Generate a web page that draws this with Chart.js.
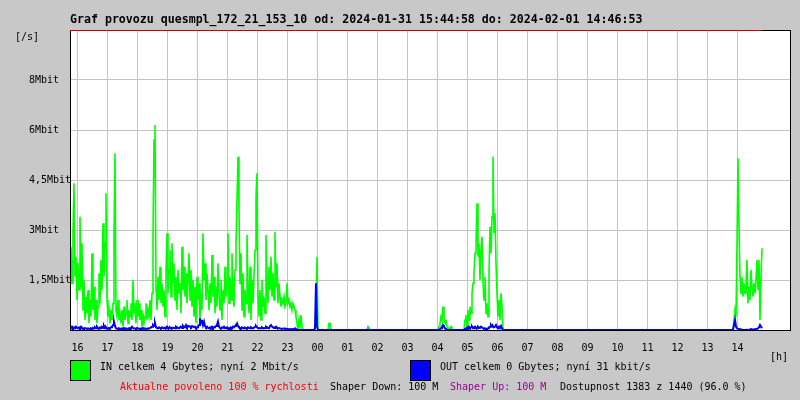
<!DOCTYPE html>
<html><head><meta charset="utf-8">
<script src="https://cdn.jsdelivr.net/npm/chart.js@4.4.1/dist/chart.umd.min.js"></script>
<style>html,body{margin:0;padding:0;background:#c8c8c8;}canvas{display:block}</style>
</head><body>
<canvas id="c" width="800" height="400"></canvas>
<script>
// ---------- data ----------
const titleText = "Graf provozu quesmpl_172_21_153_10 od: 2024-01-31 15:44:58 do: 2024-02-01 14:46:53";
const xTickHours = [16,17,18,19,20,21,22,23,24,25,26,27,28,29,30,31,32,33,34,35,36,37,38];
const xTickLabels = ["16","17","18","19","20","21","22","23","00","01","02","03","04","05","06","07","08","09","10","11","12","13","14"];
const yTickValues = [0, 1.5, 3, 4.5, 6, 7.5, 9];
const yTickLabels = ["", "1,5Mbit", "3Mbit", "4,5Mbit", "6Mbit", "8Mbit", ""];
const sampleMinutes = 2;              // one sample every 2 minutes
const segmentStarts = ["15:45", "23:53", "00:21", "01:39", "04:01", "04:53", "13:51"];
// IN (Mbit/s)
const inSeg1 = [
 1.0,2.5,1.4,2.9,4.4,1.6,2.2,0.9,2.0,1.2,
 3.4,1.3,2.6,0.6,1.5,0.3,1.0,0.5,1.2,0.2,
 0.9,0.4,2.3,0.6,1.3,0.3,0.9,0.2,0.7,1.7,
 0.8,2.1,1.2,3.2,1.6,2.6,4.1,0.9,0.4,0.6,
 0.2,0.5,0.3,0.8,2.8,5.3,0.6,0.4,0.9,0.3,
 0.5,0.2,0.6,0.1,0.7,0.3,0.5,0.9,0.2,0.6,
 0.4,0.8,0.3,1.5,0.5,0.7,0.2,0.9,0.4,0.8,
 0.3,0.6,0.1,0.5,0.2,0.4,0.8,0.3,0.6,0.4,
 0.9,0.3,1.1,2.8,5.7,6.15,1.3,0.6,1.6,0.9,
 1.9,0.8,1.4,0.7,1.2,0.4,1.7,2.9,1.1,1.8,
 2.4,1.0,2.6,1.4,2.0,0.9,1.6,0.6,1.8,1.1,
 1.4,0.5,2.5,1.2,1.9,1.0,1.7,0.8,1.5,2.3,
 0.9,1.8,0.7,1.5,0.4,1.3,0.2,1.6,0.9,1.4,
 0.3,1.1,0.6,2.9,1.5,2.0,0.9,1.7,1.2,0.6,
 1.4,0.8,2.25,1.0,1.6,0.5,1.3,0.7,2.0,1.1,
 0.6,1.5,0.3,1.2,0.8,1.9,1.0,1.5,2.9,0.8,
 1.6,0.9,2.3,1.2,0.7,1.8,2.6,3.9,5.2,3.6,
 1.4,2.3,0.6,1.7,0.4,1.2,0.8,2.85,1.3,0.5,
 1.9,0.3,1.5,0.8,1.6,2.4,4.0,4.7,1.1,0.4,
 1.2,0.3,1.5,0.7,1.0,0.5,2.85,1.4,0.8,1.9,
 1.2,2.2,1.0,1.7,0.9,2.95,1.3,2.0,0.8,1.4,
 1.0,0.7,0.9,0.8,1.0,0.7,0.8,1.4,0.8,0.9,
 0.7,0.8,0.6,0.8,0.7,0.6,0.4,0.2,0.0,0.3,
 0.1,0.45,0.1,0.0];
const inSeg2 = [0,0,0.7,2.2,0];
const inSeg3 = [0,0.2,0.2,0];
const inSeg4 = [0,0.1,0.1,0];
const inSeg5 = [0,0.1,0.2,0.4,0.3,0.7,0.4,0.2,0.3,0.1,0,0,0,0.1,0];
const inSeg6 = [0,0.3,0.45,0.1,0.6,0.3,0.7,0.5,1.1,1.4,
 1.75,2.3,2.6,3.8,2.2,2.6,1.5,2.4,2.8,1.4,
 0.9,1.6,0.5,0.8,0.4,1.7,3.1,2.3,3.4,5.2,
 2.9,3.5,2.0,1.1,0.4,0.9,0.3,1.1,0.7,0,0];
const inSeg7 = [0,0.3,0.6,0.4,2.6,5.15,3.1,1.6,1.1,1.6,
 1.0,1.4,1.1,1.3,2.1,0.8,1.3,0.9,1.8,1.3,
 1.0,1.4,1.1,1.5,2.1,1.2,2.1,0.3,1.6,2.45];
// OUT (Mbit/s)
const outSeg1 = [
 0.1,0.05,0.1,0.05,0.08,0.05,0.1,0.06,0.05,0.08,
 0.05,0.1,0.06,0.05,0.04,0.06,0.05,0.03,0.05,0.04,
 0.03,0.05,0.04,0.06,0.05,0.08,0.05,0.1,0.06,0.05,
 0.08,0.05,0.1,0.06,0.12,0.05,0.08,0.04,0.05,0.06,
 0.05,0.08,0.1,0.15,0.25,0.12,0.05,0.04,0.03,0.05,
 0.04,0.03,0.05,0.04,0.06,0.03,0.05,0.04,0.03,0.05,
 0.06,0.05,0.1,0.06,0.04,0.05,0.03,0.06,0.05,0.04,
 0.03,0.05,0.04,0.06,0.03,0.05,0.04,0.03,0.05,0.04,
 0.06,0.08,0.1,0.15,0.12,0.2,0.08,0.06,0.05,0.08,
 0.06,0.05,0.08,0.06,0.05,0.07,0.06,0.1,0.06,0.05,
 0.08,0.06,0.05,0.07,0.06,0.05,0.1,0.08,0.06,0.05,
 0.08,0.1,0.06,0.12,0.08,0.1,0.15,0.08,0.1,0.12,
 0.1,0.08,0.12,0.1,0.08,0.1,0.06,0.08,0.1,0.15,
 0.35,0.2,0.3,0.15,0.25,0.12,0.08,0.1,0.06,0.05,
 0.08,0.06,0.1,0.05,0.08,0.1,0.12,0.15,0.25,0.1,
 0.06,0.05,0.08,0.06,0.1,0.05,0.06,0.08,0.05,0.06,
 0.05,0.08,0.06,0.1,0.08,0.12,0.15,0.2,0.12,0.08,
 0.06,0.05,0.08,0.06,0.05,0.07,0.06,0.05,0.08,0.06,
 0.05,0.08,0.06,0.05,0.07,0.1,0.12,0.08,0.06,0.05,
 0.06,0.05,0.08,0.06,0.05,0.06,0.1,0.08,0.06,0.05,
 0.12,0.15,0.1,0.08,0.06,0.08,0.1,0.06,0.05,0.06,
 0.05,0.04,0.03,0.04,0.05,0.03,0.04,0.02,0.03,0.02,
 0.03,0.02,0.03,0.02,0.03,0.05,0.02,0.01,0,0,
 0,0,0,0];
const outSeg2 = [0,0.05,1.4,0.1,0];
const outSeg3 = [0,0,0,0];
const outSeg4 = [0,0,0,0];
const outSeg5 = [0,0,0.03,0.05,0.1,0.15,0.1,0.05,0.03,0,0,0,0,0,0];
const outSeg6 = [0,0.03,0.05,0.08,0.05,0.1,0.06,0.08,0.1,0.05,
 0.08,0.1,0.06,0.05,0.1,0.08,0.06,0.1,0.08,0.05,
 0.03,0.05,0.04,0.03,0.05,0.08,0.1,0.15,0.1,0.12,
 0.08,0.1,0.15,0.08,0.05,0.1,0.06,0.12,0.05,0,0];
const outSeg7 = [0,0.15,0.3,0.1,0.05,0.03,0.02,0.03,0.02,0.01,
 0,0,0,0,0.01,0,0,0.02,0.03,0.02,
 0.01,0.02,0.03,0.02,0.03,0.05,0.08,0.15,0.1,0.05];
const allowedLevel = 9;
const allowedFrom = "15:45";
const allowedTo = "14:49";

// ---------- helpers ----------
function toAxisHours(hhmm){ const [h,m]=hhmm.split(':').map(Number); return (h<15?h+24:h)+m/60; }
function buildSeries(segs){
  const pts=[];
  segs.forEach((vals,k)=>{ const t0=toAxisHours(segmentStarts[k]);
    vals.forEach((v,i)=>pts.push({x:t0+i*sampleMinutes/60,y:v})); });
  return pts;
}
const inData = buildSeries([inSeg1,inSeg2,inSeg3,inSeg4,inSeg5,inSeg6,inSeg7]);
const outData = buildSeries([outSeg1,outSeg2,outSeg3,outSeg4,outSeg5,outSeg6,outSeg7]);
const allowedData = [{x:toAxisHours(allowedFrom),y:allowedLevel},{x:toAxisHours(allowedTo),y:allowedLevel}];

const MONO = "'DejaVu Sans Mono', 'Liberation Mono', monospace";
Chart.defaults.font.family = MONO;
Chart.defaults.color = '#000';

const framePlugin = {
  id:'frame',
  beforeDraw(chart){ const c=chart.ctx; c.save(); c.fillStyle='#c8c8c8'; c.fillRect(0,0,chart.width,chart.height);
    const a=chart.chartArea; c.fillStyle='#fff'; c.fillRect(a.left,a.top,a.right-a.left,a.bottom-a.top); c.restore(); },
  beforeDatasetDraw(chart,args){
    if(args.index!==2) return;
    const c=chart.ctx,a=chart.chartArea; c.save(); c.strokeStyle='#000'; c.lineWidth=1;
    c.strokeRect(a.left+0.5,a.top+0.5,a.right-a.left,a.bottom-a.top); c.restore();
  },
  afterDraw(chart){
    const c=chart.ctx; c.save(); c.textBaseline='middle'; c.textAlign='left';
    c.fillStyle='#000'; c.font="bold 11.6px "+MONO; c.fillText(titleText,70,19.5);
    c.font="10px "+MONO;
    c.fillText("[/s]",15,37);
    c.fillText("[h]",770,357);
    const ds=chart.data.datasets;
    // legend boxes
    c.fillStyle=ds[0].borderColor; c.fillRect(70,360,21,21);
    c.fillStyle=ds[1].borderColor; c.fillRect(410,360,21,21);
    c.strokeStyle='#000'; c.lineWidth=1; c.strokeRect(70.5,360.5,20,20); c.strokeRect(410.5,360.5,20,20);
    c.fillStyle='#000';
    c.fillText(ds[0].label,100,367);
    c.fillText(ds[1].label,440,367);
    c.fillStyle='#ff0000'; c.fillText("Aktualne povoleno 100 % rychlosti",120,387);
    c.fillStyle='#000'; c.fillText("Shaper Down: 100 M",330,387);
    c.fillStyle='#990099'; c.fillText("Shaper Up: 100 M",450,387);
    c.fillStyle='#000'; c.fillText("Dostupnost 1383 z 1440 (96.0 %)",560,387);
    c.restore();
  }
};

new Chart(document.getElementById('c'),{
  type:'line',
  data:{datasets:[
    {label:"IN celkem 4 Gbytes; nyní 2 Mbit/s",data:inData,borderColor:'#00ff00',borderWidth:1.6,pointRadius:0,tension:0,order:2},
    {label:"OUT celkem 0 Gbytes; nyní 31 kbit/s",data:outData,borderColor:'#0000ff',borderWidth:2,pointRadius:0,tension:0,order:1},
    {label:"povoleno",data:allowedData,borderColor:'#cc0000',borderWidth:2,pointRadius:0,clip:0,order:0}
  ]},
  options:{
    responsive:false,animation:false,devicePixelRatio:1,
    layout:{padding:{left:29,top:30,right:10,bottom:0}},
    plugins:{legend:{display:false},tooltip:{enabled:false},title:{display:false}},
    scales:{
      x:{type:'linear',min:15.75,max:39.75,
        afterBuildTicks:s=>{s.ticks=xTickHours.map(v=>({value:v}));},
        afterFit:s=>{s.height=70;},
        grid:{color:'#c4c4c4',lineWidth:1,drawTicks:false},
        border:{display:false},
        ticks:{autoSkip:false,maxRotation:0,padding:12,font:{size:10,family:MONO},color:'#000',
          callback:(v,i)=>xTickLabels[i]}
      },
      y:{type:'linear',min:0,max:9,
        afterBuildTicks:s=>{s.ticks=yTickValues.map(v=>({value:v}));},
        afterFit:s=>{s.width=41;},
        grid:{color:'#c4c4c4',lineWidth:1,drawTicks:false},
        border:{display:false},
        ticks:{crossAlign:'far',padding:0,font:{size:10,family:MONO},color:'#000',
          callback:(v,i)=>yTickLabels[i]}
      }
    }
  },
  plugins:[framePlugin]
});
</script>
</body></html>
